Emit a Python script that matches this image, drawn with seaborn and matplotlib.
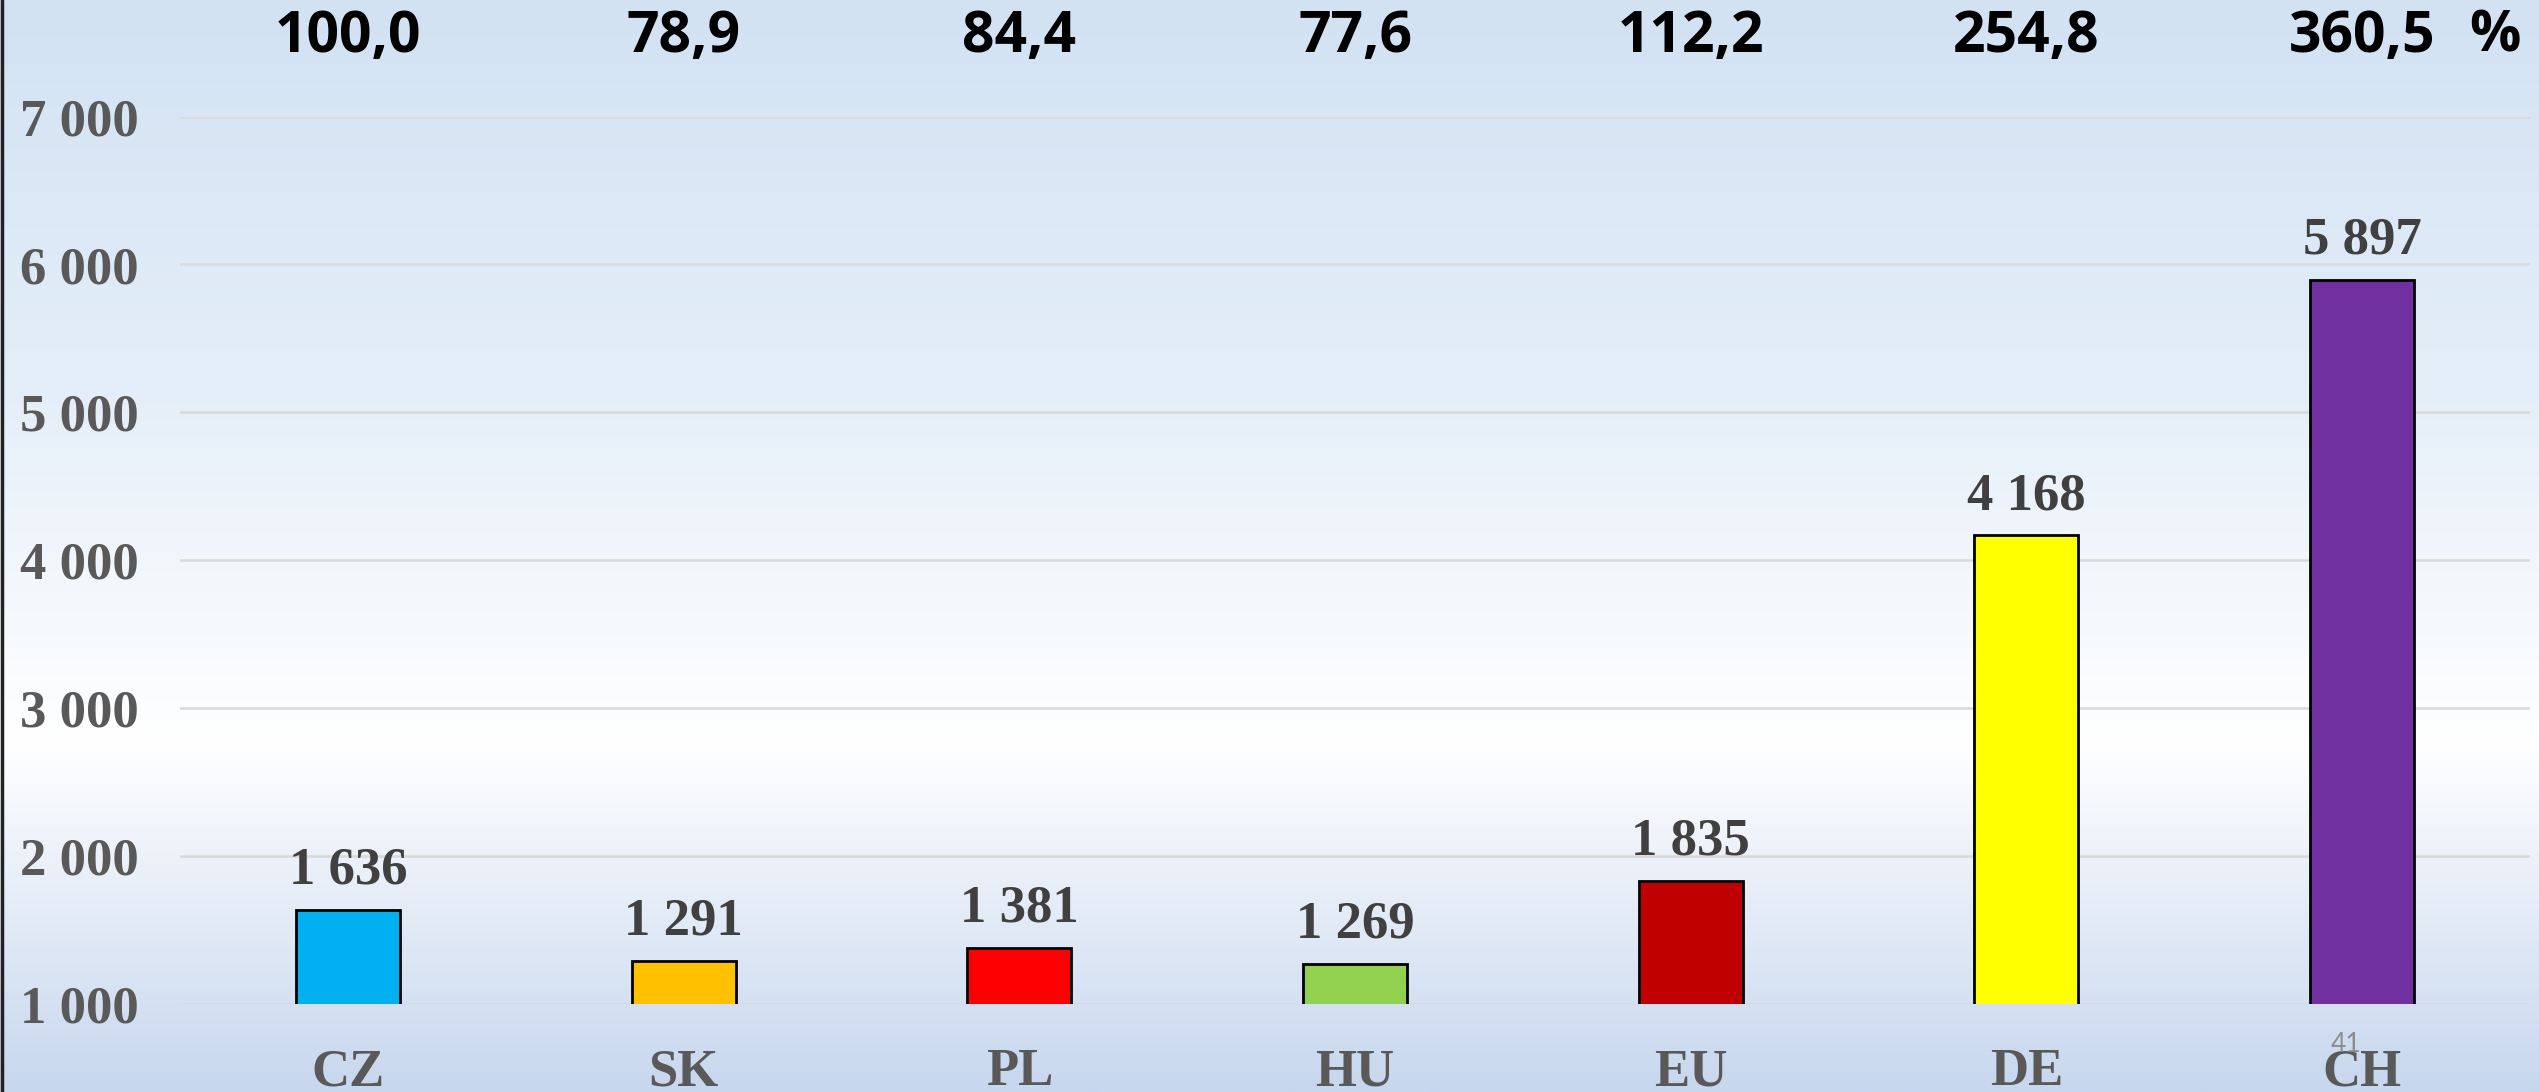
import numpy as np
import pandas as pd
import matplotlib
matplotlib.use('Agg')
import matplotlib.pyplot as plt
import matplotlib.transforms as mtransforms
from matplotlib.colors import LinearSegmentedColormap
from matplotlib.lines import Line2D
import seaborn as sns

# data
countries = ['CZ', 'SK', 'PL', 'HU', 'EU', 'DE', 'CH']
values = [1636, 1291, 1381, 1269, 1835, 4168, 5897]
percent = ['100,0', '78,9', '84,4', '77,6', '112,2', '254,8', '360,5']
bar_colors = ['#00B0F0', '#FFC000', '#FF0000', '#92D050', '#C00000', '#FFFF00', '#7030A0']
yticks = [1000, 2000, 3000, 4000, 5000, 6000, 7000]
ytick_labels = ['1 000', '2 000', '3 000', '4 000', '5 000', '6 000', '7 000']

df = pd.DataFrame({'country': countries, 'value': values})

sns.set_theme(style='white')
serif = 'Liberation Serif'

fig = plt.figure(figsize=(25.39, 10.92), dpi=100)

# background gradient (light blue -> white -> light blue)
bg = fig.add_axes([0, 0, 1, 1], zorder=-10)
cmap = LinearSegmentedColormap.from_list(
    'bg', [(0.0, '#d2e2f3'), (0.35, '#e4eef8'), (0.68, '#ffffff'), (1.0, '#c7d7ee')])
grad = np.linspace(0, 1, 512).reshape(-1, 1)
bg.imshow(grad, aspect='auto', cmap=cmap, extent=[0, 1, 1, 0])
bg.set_xlim(0, 1)
bg.set_ylim(1, 0)
bg.axis('off')

ax = fig.add_axes([180 / 2539, 1 - 1004 / 1092, 2350 / 2539, (1004 - 116.6) / 1092])
ax.set_facecolor('none')

sns.barplot(data=df, x='country', y='value', hue='country', palette=bar_colors,
            saturation=1, legend=False, width=0.31, edgecolor='black', linewidth=2,
            ax=ax, zorder=3)

ax.set_ylim(1000, 7000)
ax.set_yticks(yticks)
ax.set_yticklabels(ytick_labels)
ax.yaxis.grid(True, color='#d9d9d9', linewidth=1.8, zorder=0)
ax.set_axisbelow(True)
for s in ax.spines.values():
    s.set_visible(False)
ax.set_xlabel('')
ax.set_ylabel('')
ax.tick_params(axis='y', length=0, pad=30, labelsize=38, labelcolor='#595959')
ax.tick_params(axis='x', length=0, pad=32, labelsize=38, labelcolor='#595959')
for lab in ax.get_xticklabels() + ax.get_yticklabels():
    lab.set_fontfamily(serif)
    lab.set_fontweight('bold')

# value labels above the bars
for cont in ax.containers:
    ax.bar_label(cont, labels=[f'{int(round(v)):,}'.replace(',', ' ') for v in cont.datavalues],
                 padding=11, fontsize=38, fontweight='bold', color='#404040',
                 fontfamily=serif)

# percent row at the top
trans = mtransforms.blended_transform_factory(ax.transData, ax.transAxes)
for i, p in enumerate(percent):
    ax.text(i, 1.09, p, transform=trans, ha='center', va='center', fontsize=41,
            fontweight='bold', color='black', fontfamily='Open Sans', clip_on=False)
ax.text(0.985, 1.09, '%', transform=ax.transAxes, ha='center', va='center',
        fontsize=41, fontweight='bold', color='black', fontfamily='Open Sans', clip_on=False)

# slide page number and left border
fig.text(2346 / 2539, 1 - 1045 / 1092, '41', ha='center', va='center', fontsize=19,
         color='#8c8c8c', fontfamily='Lato')
fig.add_artist(Line2D([0.0006, 0.0006], [0, 1], color='#222222', linewidth=2.5,
                      transform=fig.transFigure))

fig.savefig('out.png', dpi=100)
